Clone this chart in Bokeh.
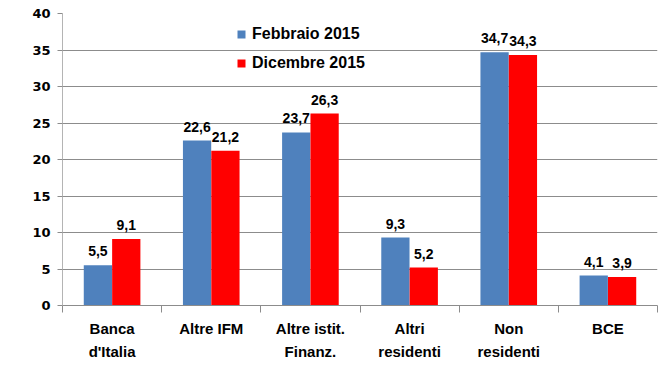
from bokeh.plotting import figure
from bokeh.models import FixedTicker, LinearAxis, Range1d, ColumnDataSource, Legend, LegendItem
from bokeh.core.properties import value
from bokeh.embed import file_html
from bokeh.resources import INLINE

categories = ["Banca\nd'Italia", "Altre IFM", "Altre istit.\nFinanz.", "Altri\nresidenti", "Non\nresidenti", "BCE"]
feb_2015 = [5.5, 22.6, 23.7, 9.3, 34.7, 4.1]
dic_2015 = [9.1, 21.2, 26.3, 5.2, 34.3, 3.9]
series_names = ["Febbraio 2015", "Dicembre 2015"]
series_colors = ["#4F81BD", "#FF0000"]
y_ticks = [0, 5, 10, 15, 20, 25, 30, 35, 40]

n = len(categories)
centers = [i + 0.5 for i in range(n)]
bar_w = 0.285
off = 0.143

p = figure(width=667, height=379, x_range=Range1d(0, n), y_range=Range1d(0, 40),
           output_backend="svg", toolbar_location=None,
           min_border_left=62, min_border_right=10, min_border_top=13, min_border_bottom=74)
p.outline_line_color = None
p.background_fill_color = "white"

FONT = value("Liberation Sans")

renderers = []
for vals, dx, col in [(feb_2015, -off, series_colors[0]), (dic_2015, off, series_colors[1])]:
    src = ColumnDataSource(dict(x=[c + dx for c in centers], top=vals,
                                lab=[f"{v:.1f}".replace(".", ",") for v in vals]))
    r = p.vbar(x="x", top="top", width=bar_w, bottom=0, source=src,
               fill_color=col, line_color=None)
    renderers.append(r)
    p.text(x="x", y="top", text="lab", source=src, text_align="center",
           text_baseline="alphabetic", y_offset=-14, text_font=FONT,
           text_font_style="bold", text_font_size="14px", text_color="black")

# grid
p.xgrid.visible = False
p.ygrid.ticker = FixedTicker(ticks=y_ticks)
p.ygrid.grid_line_color = "#8C8C8C"
p.ygrid.grid_line_width = 1

# y axis
ya = p.yaxis[0]
ya.ticker = FixedTicker(ticks=y_ticks)
ya.axis_line_color = "#B4B4B4"
ya.major_tick_line_color = "#8C8C8C"
ya.major_tick_out = 5
ya.major_tick_in = 0
ya.minor_tick_line_color = None
ya.major_label_standoff = 7
ya.major_label_text_font = "DejaVu Sans"
ya.major_label_text_font_style = "bold"
ya.major_label_text_font_size = "13px"
ya.major_label_text_color = "black"

# x axis: boundary ticks (no labels)
xa = p.xaxis[0]
xa.ticker = FixedTicker(ticks=list(range(n + 1)))
xa.axis_line_color = "#8C8C8C"
xa.major_tick_line_color = "#8C8C8C"
xa.major_tick_out = 7
xa.major_tick_in = 0
xa.minor_tick_line_color = None
xa.major_label_overrides = {i: "" for i in range(n + 1)}
xa.major_label_text_font_size = "1px"
xa.major_label_standoff = 0

# x axis: category labels
xl = LinearAxis(ticker=FixedTicker(ticks=centers),
                major_label_overrides={c: lab for c, lab in zip(centers, categories)})
xl.axis_line_color = None
xl.major_tick_line_color = None
xl.minor_tick_line_color = None
xl.major_label_standoff = 1
xl.major_label_text_font = "Liberation Sans"
xl.major_label_text_font_style = "bold"
xl.major_label_text_font_size = "15px"
xl.major_label_text_line_height = 1.4
xl.major_label_text_color = "black"
p.add_layout(xl, "below")

legend = Legend(items=[LegendItem(label=series_names[i], renderers=[renderers[i]]) for i in range(2)],
                location=(174, 232), orientation="vertical")
legend.border_line_color = None
legend.background_fill_alpha = 0
legend.padding = 0
legend.margin = 0
legend.spacing = 9
legend.glyph_width = 10
legend.glyph_height = 10
legend.label_height = 20
legend.label_standoff = 6
legend.label_text_font = "Liberation Sans"
legend.label_text_font_style = "bold"
legend.label_text_font_size = "16px"
legend.label_text_color = "black"
p.add_layout(legend, "center")

open("out.html", "w").write(file_html(p, INLINE))
